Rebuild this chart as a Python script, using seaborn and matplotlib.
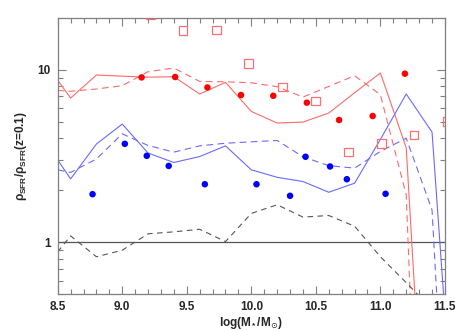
import numpy as np
import pandas as pd
import seaborn as sns
import matplotlib
matplotlib.use("Agg")
import matplotlib.pyplot as plt
from matplotlib.ticker import LogLocator, MultipleLocator, FixedLocator, NullFormatter, FuncFormatter

# binned lines (log M grid)
mass_grid = [8.5, 8.6, 8.8, 9.0, 9.2, 9.4, 9.6, 9.8, 10.0, 10.2, 10.4, 10.6, 10.8, 11.0, 11.2, 11.4]
red_solid = [8.69, 6.85, 9.31, 9.17, 9.05, 9.10, 7.23, 8.44, 5.73, 4.91, 4.97, 5.61, 7.35, 9.57, 3.53, 0.01]
red_dashed = [7.58, 7.50, 7.73, 8.08, 9.73, 10.23, 8.55, 8.51, 8.40, 7.97, 6.94, 8.00, 9.23, 7.16, 1.88, 0.0003]
grey_dashed = [0.88, 1.09, 0.825, 0.90, 1.12, 1.15, 1.19, 1.01, 1.47, 1.65, 1.40, 1.43, 1.24, 0.825, 0.584, 0.41]

mass_grid_blue = mass_grid + [11.6]
blue_solid = [3.00, 2.33, 3.71, 4.84, 3.29, 2.90, 3.14, 3.62, 2.63, 2.38, 2.25, 1.95, 2.20, 3.95, 7.23, 4.35, 0.034]
blue_dashed = [2.63, 2.54, 3.04, 4.25, 3.64, 3.33, 3.62, 3.75, 3.82, 3.89, 3.13, 2.78, 2.69, 3.36, 4.01, 1.54, 0.003]

# individual points
red_dot_x = [9.15, 9.41, 9.66, 9.92, 10.17, 10.43, 10.68, 10.94, 11.19]
red_dot_y = [9.02, 9.07, 7.89, 7.13, 7.06, 6.44, 5.11, 5.39, 9.48]

blue_dot_x = [8.77, 9.02, 9.19, 9.36, 9.64, 10.04, 10.30, 10.42, 10.61, 10.74, 11.04]
blue_dot_y = [1.90, 3.72, 3.17, 2.77, 2.17, 2.17, 1.86, 3.13, 2.75, 2.32, 1.91]

square_x = [9.22, 9.47, 9.73, 9.98, 10.24, 10.50, 10.75, 11.01, 11.26, 11.52]
square_y = [20.8, 16.8, 17.0, 10.9, 7.94, 6.58, 3.34, 3.72, 4.18, 4.99]

sns.set_style("ticks")
plt.rcParams["font.family"] = ["Liberation Sans", "DejaVu Sans"]
plt.rcParams["mathtext.fontset"] = "custom"
plt.rcParams["mathtext.rm"] = "Liberation Sans:bold"
plt.rcParams["mathtext.it"] = "Liberation Sans:bold"
plt.rcParams["mathtext.sf"] = "DejaVu Sans"

fig = plt.figure(figsize=(4.63, 3.31), dpi=100)
ax = fig.add_axes([0.1246, 0.1109, 0.8364, 0.8356])

ax.axhline(1, color="#555555", lw=0.9, zorder=1)

sns.lineplot(x=mass_grid, y=red_solid, color="#ff6a6a", lw=0.8, sort=False, estimator=None, ax=ax)
sns.lineplot(x=mass_grid, y=red_dashed, color="#ff6a6a", lw=0.8, linestyle=(0, (6, 4)), sort=False, estimator=None, ax=ax)
sns.lineplot(x=mass_grid_blue, y=blue_solid, color="#6a6aff", lw=0.8, sort=False, estimator=None, ax=ax)
sns.lineplot(x=mass_grid_blue, y=blue_dashed, color="#6a6aff", lw=0.8, linestyle=(0, (6, 4)), sort=False, estimator=None, ax=ax)
sns.lineplot(x=mass_grid, y=grey_dashed, color="#555555", lw=0.8, linestyle=(0, (5, 4)), sort=False, estimator=None, ax=ax)

sns.scatterplot(x=red_dot_x, y=red_dot_y, color="#ff0000", s=22, edgecolor="none", ax=ax, zorder=5)
sns.scatterplot(x=blue_dot_x, y=blue_dot_y, color="#0000ff", s=22, edgecolor="none", ax=ax, zorder=5)
sns.scatterplot(x=square_x, y=square_y, marker="s", s=40, facecolor="none", edgecolor="#ff7070",
                linewidth=0.9, ax=ax, zorder=5)

ax.set_yscale("log")
ax.set_xlim(8.5, 11.5)
ax.set_ylim(0.5, 20)

ax.xaxis.set_major_locator(MultipleLocator(0.5))
ax.xaxis.set_minor_locator(MultipleLocator(0.1))
ax.xaxis.set_major_formatter(FuncFormatter(lambda v, p: "%.1f" % v))
ax.yaxis.set_major_locator(FixedLocator([1, 10]))
ax.yaxis.set_minor_locator(LogLocator(base=10, subs=np.arange(2, 10)))
ax.yaxis.set_major_formatter(FuncFormatter(lambda v, p: "%d" % v))
ax.yaxis.set_minor_formatter(NullFormatter())

ax.tick_params(which="both", direction="in", top=True, right=True, color="#808080", width=0.8)
ax.tick_params(which="major", length=6, labelsize=8.5, pad=5)
ax.tick_params(which="minor", length=3.5)
for lab in ax.get_xticklabels() + ax.get_yticklabels():
    lab.set_fontweight("bold")
for sp in ax.spines.values():
    sp.set_color("#808080")
    sp.set_linewidth(0.9)

ax.set_xlabel(r"log(M$_*$/M$_{\mathsf{\odot}}$)", fontsize=8.5, fontweight="bold", labelpad=1)
ax.set_ylabel(r"$\rho_{\rm SFR}/\rho_{\rm SFR}$(z=0.1)", fontsize=8.5, fontweight="bold", labelpad=6)

fig.savefig("out.png", dpi=100)
